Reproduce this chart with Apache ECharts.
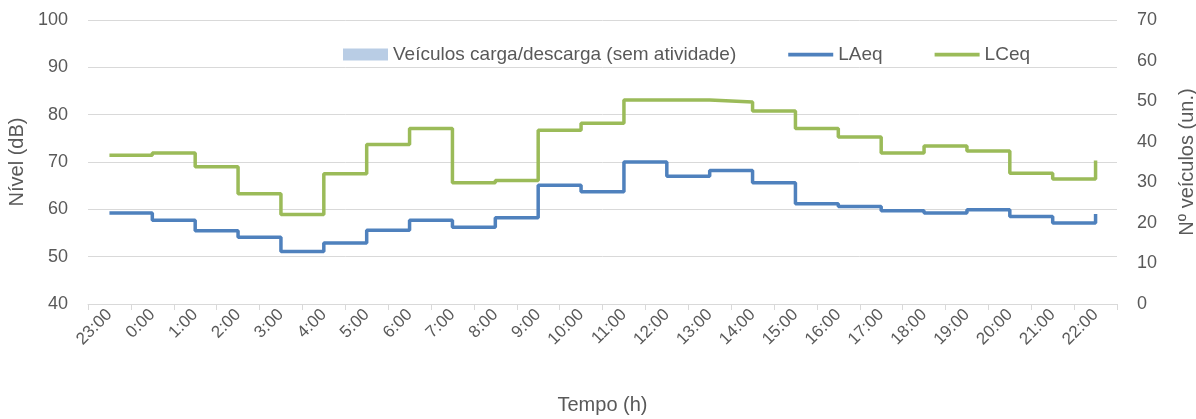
<!DOCTYPE html>
<html>
<head>
<meta charset="utf-8">
<script src="https://cdn.jsdelivr.net/npm/echarts@6/dist/echarts.min.js"></script>
<style>
html,body{margin:0;padding:0;background:#fff;}
#c{width:1196px;height:419px;}
</style>
</head>
<body>
<div id="c"></div>
<script>
const categories = ['23:00','0:00','1:00','2:00','3:00','4:00','5:00','6:00','7:00','8:00','9:00','10:00','11:00','12:00','13:00','14:00','15:00','16:00','17:00','18:00','19:00','20:00','21:00','22:00'];
const veiculos = [0,0,0,0,0,0,0,0,0,0,0,0,0,0,0,0,0,0,0,0,0,0,0,0];
const laeq = [59.2,57.7,55.5,54.1,51.1,52.9,55.6,57.7,56.2,58.2,65.1,63.7,70.0,67.0,68.2,65.6,61.2,60.6,59.7,59.2,59.9,58.5,57.1,59.0];
const lceq = [71.4,71.9,69.0,63.3,58.9,67.5,73.7,77.1,65.6,66.1,76.7,78.2,83.1,83.1,82.7,80.8,77.1,75.3,71.9,73.4,72.3,67.6,66.4,70.3];
const leftTicks = {min:40, max:100, interval:10};
const rightTicks = {min:0, max:70, interval:10};

const FONT = '"Liberation Sans", Arial, sans-serif';
const TXT = '#595959';
const GRID = '#d9d9d9';
const LINE_ICON = 'path://M0,0h48v4h-48z';

const chart = echarts.init(document.getElementById('c'), null, {renderer:'canvas'});
chart.setOption({
  animation:false,
  textStyle:{fontFamily:FONT, color:TXT},
  grid:{left:88, right:79, top:20, bottom:115, outerBoundsMode:'none', containLabel:false},
  legend:{
    top:40, left:338, itemGap:52, itemWidth:45, itemHeight:12,
    textStyle:{fontFamily:FONT, fontSize:19, color:TXT},
    data:[
      {name:'Veículos carga/descarga (sem atividade)', icon:'rect'},
      {name:'LAeq', icon:LINE_ICON},
      {name:'LCeq', icon:LINE_ICON}
    ]
  },
  xAxis:{
    type:'category', data:categories, boundaryGap:true,
    name:'Tempo (h)', nameLocation:'middle', nameGap:91,
    nameTextStyle:{fontFamily:FONT, fontSize:20, color:TXT},
    axisLine:{lineStyle:{color:GRID, width:1}},
    axisTick:{show:true, length:6, lineStyle:{color:GRID}},
    axisLabel:{rotate:45, fontSize:17, color:TXT, margin:8, interval:0, fontFamily:FONT}
  },
  yAxis:[
    {type:'value', min:leftTicks.min, max:leftTicks.max, interval:leftTicks.interval,
     name:'Nível (dB)', nameLocation:'middle', nameGap:60, nameRotate:90,
     nameTextStyle:{fontFamily:FONT, fontSize:20, color:TXT},
     axisLine:{show:false}, axisTick:{show:false},
     axisLabel:{fontSize:18, color:TXT, margin:20, fontFamily:FONT},
     splitLine:{lineStyle:{color:GRID, width:1}}},
    {type:'value', min:rightTicks.min, max:rightTicks.max, interval:rightTicks.interval,
     name:'Nº veículos (un.)', nameLocation:'middle', nameGap:60, nameRotate:90,
     nameTextStyle:{fontFamily:FONT, fontSize:20, color:TXT},
     axisLine:{show:false}, axisTick:{show:false},
     axisLabel:{fontSize:18, color:TXT, margin:20, fontFamily:FONT},
     splitLine:{show:false}}
  ],
  series:[
    {name:'Veículos carga/descarga (sem atividade)', type:'bar', yAxisIndex:1, data:veiculos,
     itemStyle:{color:'#b9cde5'}, barWidth:'60%'},
    {name:'LAeq', type:'line', step:'end', data:laeq, symbol:'none',
     lineStyle:{color:'#4f81bd', width:3.5}, itemStyle:{color:'#4f81bd'}},
    {name:'LCeq', type:'line', step:'end', data:lceq, symbol:'none',
     lineStyle:{color:'#9bbb59', width:3.5}, itemStyle:{color:'#9bbb59'}}
  ]
});
</script>
</body>
</html>
